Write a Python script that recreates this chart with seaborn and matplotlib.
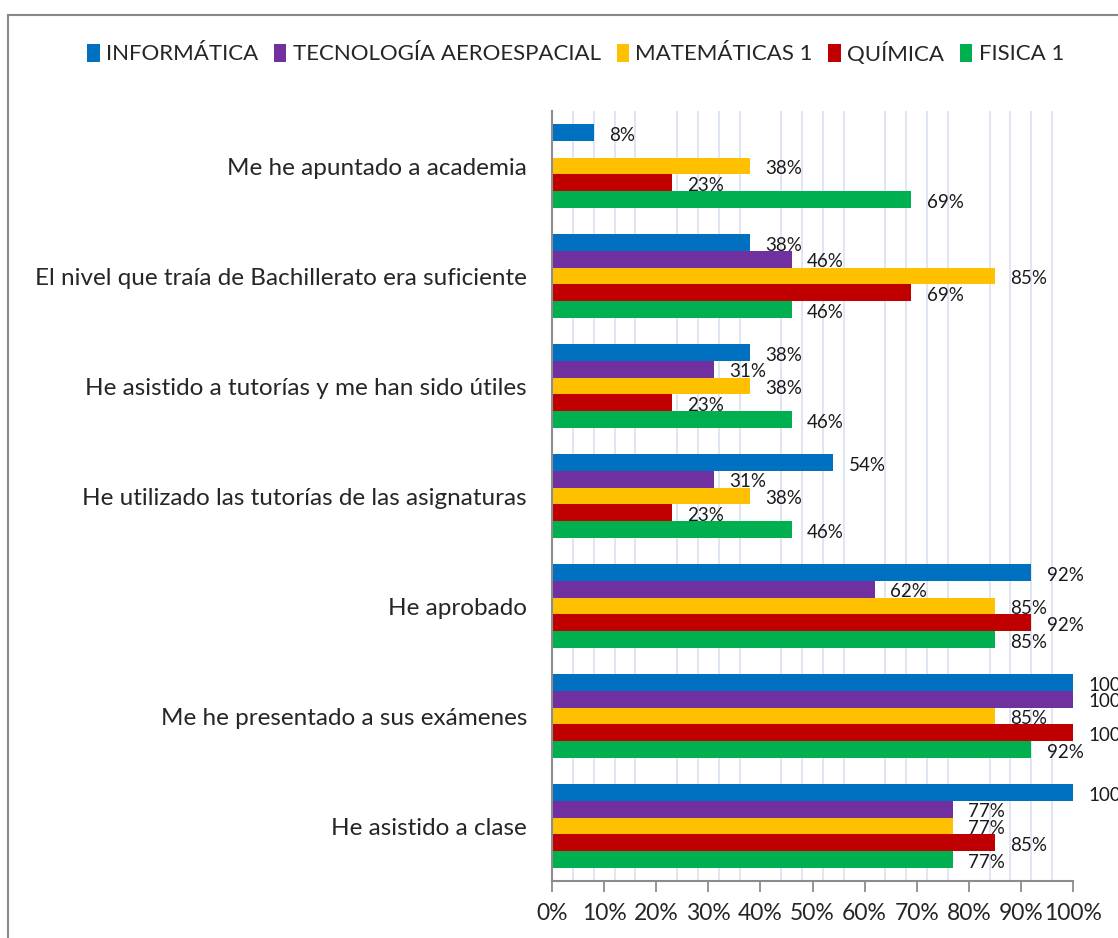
import numpy as np
import pandas as pd
import seaborn as sns
import matplotlib.pyplot as plt
from matplotlib.patches import Rectangle

categorias = [
    'Me he apuntado a academia',
    'El nivel que traía de Bachillerato era suficiente',
    'He asistido a tutorías y me han sido útiles',
    'He utilizado las tutorías de las asignaturas',
    'He aprobado',
    'Me he presentado a sus exámenes',
    'He asistido a clase',
]
asignaturas = ['INFORMÁTICA', 'TECNOLOGÍA AEROESPACIAL', 'MATEMÁTICAS 1', 'QUÍMICA', 'FISICA 1']
colores = ['#0070C0', '#7030A0', '#FFC000', '#C00000', '#00B050']

informatica = [8, 38, 38, 54, 92, 100, 100]
tecnologia = [np.nan, 46, 31, 31, 62, 100, 77]
matematicas = [38, 85, 38, 38, 85, 85, 77]
quimica = [23, 69, 23, 23, 92, 100, 85]
fisica = [69, 46, 46, 46, 85, 92, 77]

series = [informatica, tecnologia, matematicas, quimica, fisica]
rows = []
for nombre, vals in zip(asignaturas, series):
    for cat, v in zip(categorias, vals):
        if not np.isnan(v):
            rows.append({'Categoría': cat, 'Asignatura': nombre, 'Valor': v})
df = pd.DataFrame(rows)

sns.set_style('white')
plt.rcParams['font.family'] = ['Lato', 'DejaVu Sans']

fig = plt.figure(figsize=(11.18, 9.38), dpi=100)
ax = fig.add_axes([552 / 1118, 57 / 938, 521 / 1118, 770 / 938])

sns.barplot(data=df, y='Categoría', x='Valor', hue='Asignatura', order=categorias,
            hue_order=asignaturas, palette=colores, orient='h', width=0.764,
            saturation=1, errorbar=None, linewidth=0, ax=ax)

# etiquetas de valor a la derecha de cada barra
for cont in ax.containers:
    for bar in cont:
        w = bar.get_width()
        if np.isnan(w):
            continue
        ax.annotate(f'{round(w)}%', (w, bar.get_y() + bar.get_height() / 2),
                    xytext=(11, -2), textcoords='offset points', va='center',
                    ha='left', fontsize=13.5, color='#1a1a1a', annotation_clip=False)

ax.set_xlim(0, 100)
ax.set_xticks(np.arange(0, 101, 10))
ax.set_xticklabels([f'{t}%' for t in range(0, 101, 10)])
ax.set_xticks(np.arange(0, 101, 4), minor=True)
ax.grid(False)
ax.grid(True, which='minor', axis='x', color='#DCE4F0', linewidth=1.3)
ax.set_axisbelow(True)
ax.tick_params(axis='x', which='major', direction='out', length=8, width=1.3,
               color='#8c8c8c', labelsize=16.5, pad=8, bottom=True)
ax.tick_params(axis='x', which='minor', length=0)
ax.tick_params(axis='y', length=0, labelsize=17.5, pad=18)
ax.set_xlabel('')
ax.set_ylabel('')
for s in ['top', 'right']:
    ax.spines[s].set_visible(False)
for s in ['left', 'bottom']:
    ax.spines[s].set_color('#8c8c8c')
    ax.spines[s].set_linewidth(1.5)

handles, labels = ax.get_legend_handles_labels()
ax.get_legend().remove()
fig.legend(handles, labels, loc='center', bbox_to_anchor=(0.515, 1 - 53 / 938), ncol=5,
           frameon=False, fontsize=16, handlelength=0.55, handleheight=0.9,
           handletextpad=0.3, columnspacing=0.7)

fig.patches.append(Rectangle((8 / 1118, -0.1), 1.2, 1.1 - 15 / 938, transform=fig.transFigure,
                             fill=False, edgecolor='#898989', linewidth=1.5))

fig.savefig('out.png', dpi=100)
